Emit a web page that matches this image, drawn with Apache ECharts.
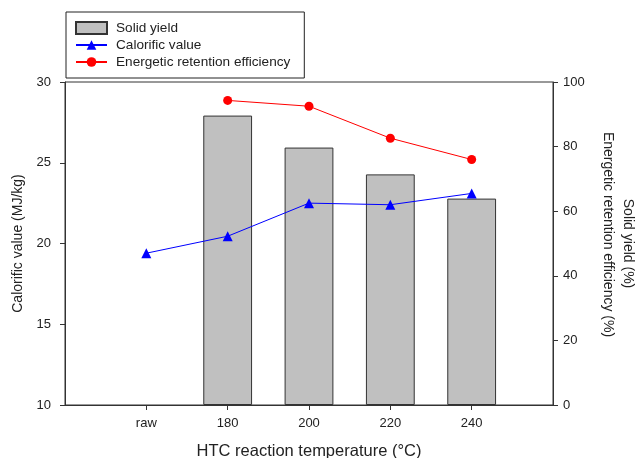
<!DOCTYPE html>
<html>
<head>
<meta charset="utf-8">
<script src="https://cdn.jsdelivr.net/npm/echarts@6/dist/echarts.min.js"></script>
<style>
  html, body { margin: 0; padding: 0; background: #fff; }
  #chart { width: 639px; height: 458px; }
</style>
</head>
<body>
<div id="chart"></div>
<script>
// HTC samples along the x axis
const categories = ['raw', '180', '200', '220', '240'];
// Solid yield (%), right axis
const solidYield = [null, 89.6, 79.7, 71.4, 63.9];
// Calorific value (MJ/kg), left axis
const calorificValue = [19.4, 20.45, 22.5, 22.4, 23.1];
// Energetic retention efficiency (%), right axis
const energeticRetention = [null, 94.3, 92.5, 82.6, 76.0];

// one empty slot on each side keeps the samples away from the frame
const axisData = [''].concat(categories, ['']);
const pad = arr => ['-'].concat(arr.map(v => (v == null ? '-' : v)), ['-']);

const font = 'Arial, "Liberation Sans", sans-serif';
const ink = '#222';
const frame = '#333';

const chart = echarts.init(document.getElementById('chart'), null, { renderer: 'canvas' });
chart.setOption({
  animation: false,
  backgroundColor: '#fff',
  textStyle: { fontFamily: font, color: ink },
  grid: {
    left: 65, right: 86, top: 82, bottom: 53,
    containLabel: false, outerBoundsMode: 'none',
    show: true, borderColor: frame, borderWidth: 1
  },
  legend: {
    orient: 'vertical',
    left: 66, top: 12,
    padding: [9, 14, 9, 9],
    itemGap: 3,
    itemWidth: 31, itemHeight: 12,
    borderColor: ink, borderWidth: 1,
    textStyle: { fontFamily: font, fontSize: 13.6, color: ink, padding: [0, 0, 0, 4] },
    data: [
      { name: 'Solid yield', icon: 'rect' },
      { name: 'Calorific value' },
      { name: 'Energetic retention efficiency' }
    ]
  },
  xAxis: {
    type: 'category',
    data: axisData,
    boundaryGap: false,
    axisLine: { lineStyle: { color: frame, width: 1 } },
    axisTick: { length: 5, lineStyle: { color: frame }, interval: (i, v) => v !== '' },
    axisLabel: { fontSize: 13, color: ink, margin: 12, interval: 0 },
    name: 'HTC reaction temperature (°C)',
    nameLocation: 'middle',
    nameGap: 38,
    nameTextStyle: { fontSize: 16.5, color: ink, fontFamily: font }
  },
  yAxis: [
    {
      type: 'value', min: 10, max: 30, interval: 5, position: 'left',
      axisLine: { show: true, lineStyle: { color: frame } },
      axisTick: { show: true, length: 5, lineStyle: { color: frame } },
      splitLine: { show: false },
      axisLabel: { fontSize: 13, color: ink, margin: 14 },
      name: 'Calorific value (MJ/kg)',
      nameLocation: 'middle', nameGap: 40,
      nameTextStyle: { fontSize: 14, color: ink, fontFamily: font }
    },
    {
      type: 'value', min: 0, max: 100, interval: 20, position: 'right',
      axisLine: { show: true, lineStyle: { color: frame } },
      axisTick: { show: true, length: 5, lineStyle: { color: frame } },
      splitLine: { show: false },
      axisLabel: { fontSize: 13, color: ink, margin: 10 },
      name: '{a|Solid yield (%)}\n{b|Energetic retention efficiency (%)}',
      nameLocation: 'middle', nameGap: 45, nameRotate: -90,
      nameTextStyle: {
        fontSize: 14, color: ink, fontFamily: font, lineHeight: 20,
        rich: {
          a: { fontSize: 14, fontFamily: font, color: ink, lineHeight: 20 },
          b: { fontSize: 14, fontFamily: font, color: ink, lineHeight: 20, padding: [0, 18, 0, 0] }
        }
      }
    }
  ],
  series: [
    {
      name: 'Solid yield', type: 'bar', yAxisIndex: 1,
      data: pad(solidYield),
      barWidth: '60%',
      itemStyle: { color: '#c0c0c0', borderColor: frame, borderWidth: 1 },
      z: 1
    },
    {
      name: 'Calorific value', type: 'line', yAxisIndex: 0,
      data: pad(calorificValue),
      symbol: 'triangle', symbolSize: 10,
      lineStyle: { color: '#0000ff', width: 1 },
      itemStyle: { color: '#0000ff' },
      z: 3
    },
    {
      name: 'Energetic retention efficiency', type: 'line', yAxisIndex: 1,
      data: pad(energeticRetention),
      symbol: 'circle', symbolSize: 9,
      lineStyle: { color: '#ff0000', width: 1 },
      itemStyle: { color: '#ff0000' },
      z: 3
    }
  ]
});
</script>
</body>
</html>
